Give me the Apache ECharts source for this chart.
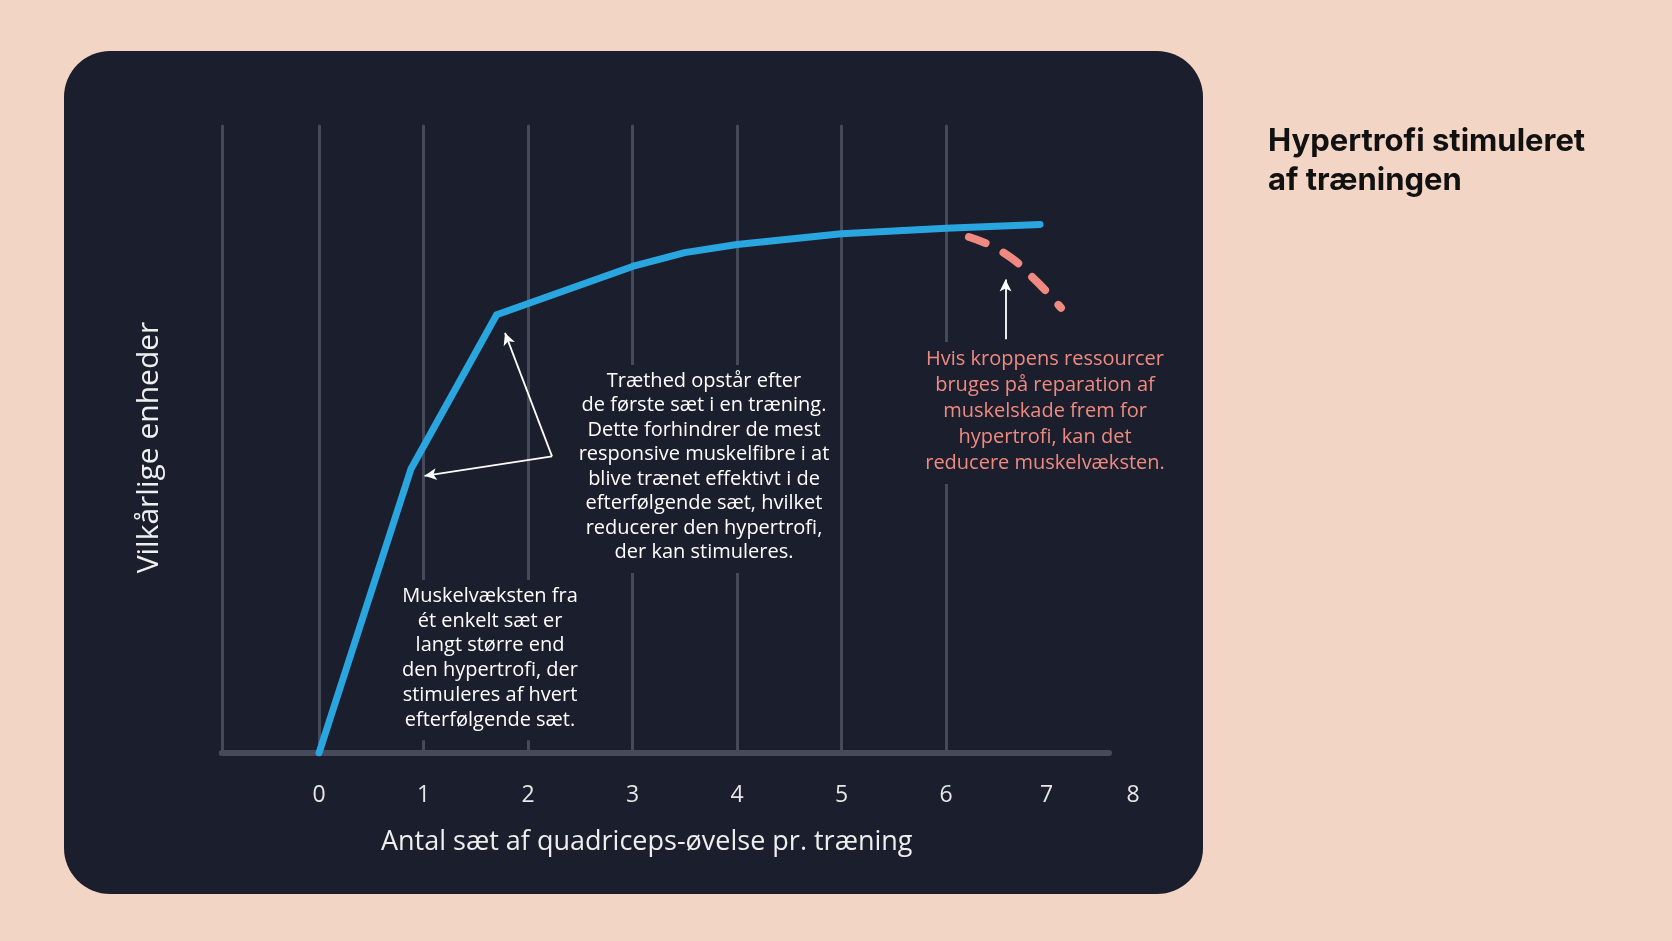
<!DOCTYPE html>
<html>
<head>
<meta charset="utf-8">
<script src="https://cdn.jsdelivr.net/npm/echarts@6/dist/echarts.min.js"></script>
<style>
  html, body { margin: 0; padding: 0; background: #f2d5c4; }
  #card {
    position: absolute; left: 64px; top: 51px; width: 1139px; height: 843px;
    background: #1b1f2d; border-radius: 46px;
  }
  #chart { position: absolute; left: 0; top: 0; width: 1672px; height: 941px; }
</style>
</head>
<body>
<div id="card"></div>
<div id="chart"></div>
<script>
// x-akse: antal sæt, y-akse: vilkårlige enheder (0-10)
const xTicks = [0, 1, 2, 3, 4, 5, 6, 7, 8]
const gridX = [0, 1, 2, 3, 4, 5, 6]
const yAxisX = -0.93
const baseEndX = 7.56

// hypertrofi-kurven (blå)
const growth = [
  [0, 0], [0.88, 4.53], [1.70, 6.99], [3.0, 7.76], [3.5, 7.98],
  [4.0, 8.11], [5.0, 8.28], [6.0, 8.37], [6.9, 8.43]
]
// muskelskade-scenariet (rød stiplet)
const damage = [[6.22, 8.23], [6.55, 7.98], [6.85, 7.55], [7.10, 7.10]]

// pile: [start, slut]
const arrows = [
  [[2.23, 4.73], [1.78, 6.70]],
  [[2.23, 4.73], [1.01, 4.42]],
  [[6.57, 6.60], [6.57, 7.55]]
]

const noteFatigue = 'Træthed opstår efter\nde første sæt i en træning.\nDette forhindrer de mest\nresponsive muskelfibre i at\nblive trænet effektivt i de\nefterfølgende sæt, hvilket\nreducerer den hypertrofi,\nder kan stimuleres.'
const noteSingle = 'Muskelvæksten fra\nét enkelt sæt er\nlangt større end\nden hypertrofi, der\nstimuleres af hvert\nefterfølgende sæt.'
const noteDamage = 'Hvis kroppens ressourcer\nbruges på reparation af\nmuskelskade frem for\nhypertrofi, kan det\nreducere muskelvæksten.'

const CARD = '#1b1f2d'
const GRIDC = '#454a5b'
const FONT = '"Open Sans", "Noto Sans", sans-serif'

const chart = echarts.init(document.getElementById('chart'))

// tekstblok med mørk baggrund, så gitterlinjerne brydes bag teksten
function note(text, x, y, color, lh) {
  return {
    type: 'text', x: x, y: y, z: 10,
    style: {
      text: text, fill: color, font: '20px ' + FONT, lineHeight: lh,
      align: 'center', verticalAlign: 'top',
      backgroundColor: CARD, padding: [4, 8, 8, 8]
    }
  }
}

chart.setOption({
  backgroundColor: 'transparent',
  animation: false,
  title: {
    text: 'Hypertrofi stimuleret\naf træningen',
    left: 1268, top: 122, padding: 0,
    textStyle: { color: '#111', fontFamily: 'Inter, Lato, sans-serif', fontWeight: 'bold', fontSize: 31, lineHeight: 39 }
  },
  grid: { left: 214.5, right: 517, top: 126, bottom: 188 },
  xAxis: {
    type: 'value', min: -1, max: 8, interval: 1,
    name: 'Antal sæt af quadriceps-øvelse pr. træning',
    nameLocation: 'middle', nameGap: 76,
    nameTextStyle: { color: '#eeeeee', fontSize: 27, fontFamily: FONT, padding: [0, 76, 0, 0] },
    axisLine: { show: false }, axisTick: { show: false }, splitLine: { show: false },
    axisLabel: {
      color: '#e6e6e6', fontSize: 23, fontFamily: FONT, margin: 31,
      formatter: v => (xTicks.indexOf(v) < 0 ? '' : (v === 8 ? '{e|8}' : (v === 7 ? '{s|7}' : String(v)))),
      rich: {
        e: { color: '#e6e6e6', fontSize: 23, fontFamily: FONT, padding: [0, 44, 0, 0] },
        s: { color: '#e6e6e6', fontSize: 23, fontFamily: FONT, padding: [0, 8, 0, 0] }
      }
    }
  },
  yAxis: {
    type: 'value', min: 0, max: 10,
    name: 'Vilkårlige enheder', nameLocation: 'middle', nameGap: 50,
    nameTextStyle: { color: '#eeeeee', fontSize: 30, fontFamily: FONT, padding: [0, 0, 0, -16] },
    axisLine: { show: false }, axisTick: { show: false }, axisLabel: { show: false }, splitLine: { show: false }
  },
  graphic: [
    note(noteFatigue, 704, 365, '#ffffff', 24.5),
    note(noteSingle, 490, 580, '#ffffff', 24.7),
    note(noteDamage, 1045, 342, '#f08a80', 26)
  ],
  series: [
    {
      // gitterlinjer og akselinjer
      type: 'line', data: [], z: 1, silent: true,
      markLine: {
        silent: true, symbol: 'none', label: { show: false },
        data: [
          ...gridX.map(x => ({ xAxis: x, lineStyle: { color: GRIDC, width: 3, type: 'solid', cap: 'round' } })),
          { xAxis: yAxisX, lineStyle: { color: GRIDC, width: 3, type: 'solid', cap: 'round' } },
          [{ coord: [yAxisX, 0], lineStyle: { color: '#464a5a', width: 6, type: 'solid', cap: 'round' } }, { coord: [baseEndX, 0] }]
        ]
      }
    },
    {
      type: 'line', data: damage, smooth: true, showSymbol: false, z: 20,
      lineStyle: { color: '#f08a80', width: 8, type: [18, 20], cap: 'round' }
    },
    {
      type: 'line', data: growth, showSymbol: false, z: 21,
      lineStyle: { color: '#29a6e0', width: 7, cap: 'round', join: 'round' }
    },
    {
      type: 'line', data: [], z: 22, silent: true,
      markLine: {
        silent: true, symbol: ['none', 'arrow'], symbolSize: [9, 12], label: { show: false },
        lineStyle: { color: '#ffffff', width: 1.8, type: 'solid' },
        data: arrows.map(a => [{ coord: a[0] }, { coord: a[1] }])
      }
    }
  ]
})
</script>
</body>
</html>
